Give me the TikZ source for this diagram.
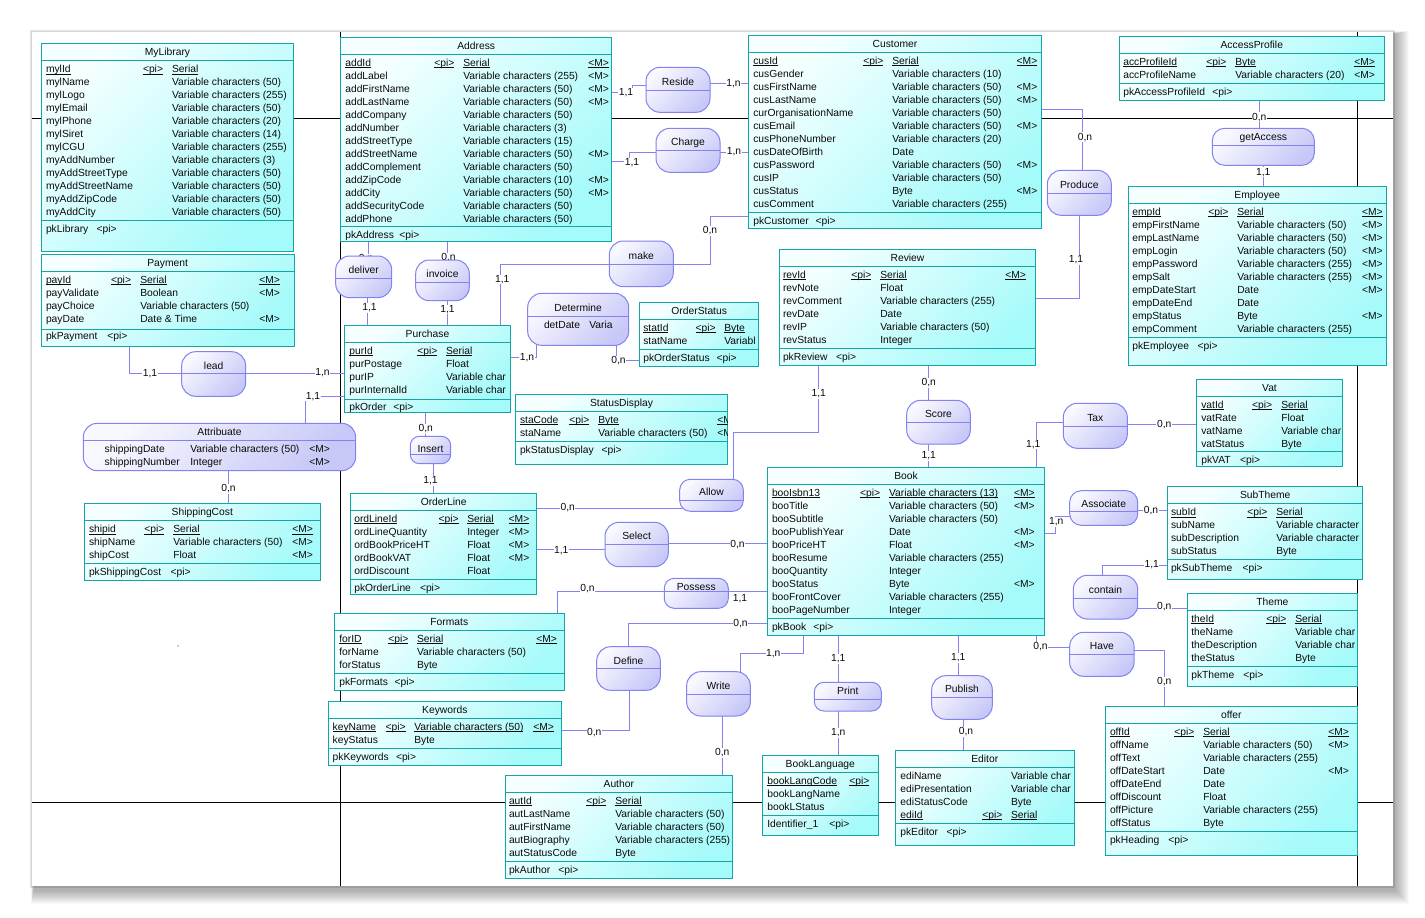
\documentclass[tikz,border=0pt]{standalone}
\usepackage{fontspec}
\setmainfont{Liberation Sans}
\usetikzlibrary{calc}
\pgfdeclarelayer{bg}
\pgfdeclarelayer{wires}
\pgfsetlayers{bg,wires,main}
\definecolor{entA}{RGB}{245,255,255}
\definecolor{entB}{RGB}{165,250,250}
\definecolor{entD}{RGB}{20,165,165}
\definecolor{relA}{RGB}{248,248,255}
\definecolor{relB}{RGB}{200,200,248}
\definecolor{relD}{RGB}{130,130,240}
\definecolor{txtc}{RGB}{10,10,10}
\newcommand\ff{\fontsize{10.3}{12}\selectfont}
\newcommand\ul[1]{\leavevmode\setbox0\hbox{#1}\rlap{\rule[-1.8pt]{\wd0}{0.75pt}}\box0}
\tikzset{
 ent/.style={rectangle, draw=entD, line width=1pt, top color=entA, bottom color=entB, shading angle=45, inner sep=0pt, outer sep=0pt},
 rel/.style={rectangle, draw=relD, line width=1pt, top color=relA, bottom color=relB, shading angle=45, inner sep=0pt, outer sep=0pt},
 txt/.style={anchor=base west, inner sep=0pt, outer sep=0pt, font=\ff, text=txtc},
 ttl/.style={txt, anchor=base},
 conn/.style={draw=relD, line width=1pt},
 card/.style={fill=white, inner sep=0.6pt, font=\ff, text=txtc},
 sepline/.style={line width=1pt},
 pageline/.style={draw=black, line width=1pt}
}
\newcounter{tn}
\newcommand\Tx[3]{\stepcounter{tn}\node[txt] (tx\arabic{tn}) at (#1,#2+3.7) {#3};}
\newcommand\Cell[3]{\if\relax\detokenize{#3}\relax\else\Tx{#1}{#2}{#3}\fi}
\newcommand\UCell[3]{\if\relax\detokenize{#3}\relax\else\Tx{#1}{#2}{\ul{#3}}\fi}
\newcommand\Cols[4]{\def\cA{#1}\def\cB{#2}\def\cC{#3}\def\cD{#4}}
\newcommand\Row[4]{\Cell{\cA}{\ry}{#1}\Cell{\cB}{\ry}{#2}\Cell{\cC}{\ry}{#3}\Cell{\cD}{\ry}{#4}\pgfmathsetmacro\ry{\ry+13}}
\newcommand\URow[4]{\UCell{\cA}{\ry}{#1}\UCell{\cB}{\ry}{#2}\UCell{\cC}{\ry}{#3}\UCell{\cD}{\ry}{#4}\pgfmathsetmacro\ry{\ry+13}}
\newcommand\PK[5]{\Tx{#2}{#1}{#3}\Tx{#4}{#1}{#5}}
\newcommand\Tab[9]{%
 \node[ent, minimum width={#4-#2}, minimum height={#5-#3}] (#1) at ({(#2+#4)/2},{(#3+#5)/2}) {};
 \draw[sepline, entD] (#2,#6) -- (#4,#6) (#2,#7) -- (#4,#7);
 \stepcounter{tn}\node[ttl] (tx\arabic{tn}) at ({(#2+#4)/2},{(#3+#6)/2+3.7}) {#8};
 \begin{scope}\clip (#2,#3) rectangle (#4,#5);\def\ry{#9}}
\newcommand\EndTab{\end{scope}}
\newcommand\Rel[8]{%
 \pgfmathsetmacro\rr{min(14,(#5-#3)/3)}%
 \node[rel, rounded corners=\rr pt, minimum width={#4-#2}, minimum height={#5-#3}] (#1) at ({(#2+#4)/2},{(#3+#5)/2}) {};
 \begin{scope}\clip[rounded corners=\rr pt] (#2,#3) rectangle (#4,#5);
 \draw[sepline, relD] (#2,#6) -- (#4,#6);\end{scope}
 \stepcounter{tn}\node[ttl] (tx\arabic{tn}) at ({(#2+#4)/2},{#7+3.7}) {#8};}
\newcommand\Card[3]{\stepcounter{tn}\node[card] (cd\arabic{tn}) at (#1,#2) {#3};}
\begin{document}
\begin{tikzpicture}[x=1pt,y=-1pt]
\useasboundingbox (0,0) rectangle (1425,918);
\begin{pgfonlayer}{bg}
\fill[white] (0,0) rectangle (1425,918);
\fill[gray!22] (30,30) rectangle (1395,888);
\foreach \i in {1,...,14} {\fill[black,opacity=0.025] (31+\i*0.2,31+\i*0.2) rectangle (1393+17-\i,886+19-\i);}
\fill[white] (32,32) rectangle (1393,886);
\draw[pageline] (32,118) -- (1393,118) (32,802) -- (1393,802) (340,32) -- (340,886) (1357.3,32) -- (1357.3,886);
\node[font=\fontsize{4}{4}\selectfont, text=gray, inner sep=0pt] (smark) at (178,646) {s};
\end{pgfonlayer}

% ---------------- entities ----------------
\Tab{MyLibrary}{41.3}{43.3}{293.7}{251.3}{60.7}{220.7}{MyLibrary}{69}
\Cols{46}{143}{172}{0}
\URow{mylId}{<pi>}{Serial}{}
\Row{mylName}{}{Variable characters (50)}{}
\Row{mylLogo}{}{Variable characters (255)}{}
\Row{mylEmail}{}{Variable characters (50)}{}
\Row{mylPhone}{}{Variable characters (20)}{}
\Row{mylSiret}{}{Variable characters (14)}{}
\Row{mylCGU}{}{Variable characters (255)}{}
\Row{myAddNumber}{}{Variable characters (3)}{}
\Row{myAddStreetType}{}{Variable characters (50)}{}
\Row{myAddStreetName}{}{Variable characters (50)}{}
\Row{myAddZipCode}{}{Variable characters (50)}{}
\Row{myAddCity}{}{Variable characters (50)}{}
\PK{229}{46}{pkLibrary}{96.7}{<pi>}
\EndTab

\Tab{Payment}{41.3}{254.3}{294}{346}{271.3}{329}{Payment}{279.7}
\Cols{46}{111}{140.3}{259.3}
\URow{payId}{<pi>}{Serial}{<M>}
\Row{payValidate}{}{Boolean}{<M>}
\Row{payChoice}{}{Variable characters (50)}{}
\Row{payDate}{}{Date \& Time}{<M>}
\PK{335.7}{46}{pkPayment}{107.3}{<pi>}
\EndTab

\Tab{Address}{340.7}{37.3}{611.7}{241.7}{54.3}{226.7}{Address}{62.7}
\Cols{345.3}{434.3}{463.3}{588.3}
\URow{addId}{<pi>}{Serial}{<M>}
\Row{addLabel}{}{Variable characters (255)}{<M>}
\Row{addFirstName}{}{Variable characters (50)}{<M>}
\Row{addLastName}{}{Variable characters (50)}{<M>}
\Row{addCompany}{}{Variable characters (50)}{}
\Row{addNumber}{}{Variable characters (3)}{}
\Row{addStreetType}{}{Variable characters (15)}{}
\Row{addStreetName}{}{Variable characters (50)}{<M>}
\Row{addComplement}{}{Variable characters (50)}{}
\Row{addZipCode}{}{Variable characters (10)}{<M>}
\Row{addCity}{}{Variable characters (50)}{<M>}
\Row{addSecurityCode}{}{Variable characters (50)}{}
\Row{addPhone}{}{Variable characters (50)}{}
\PK{234.3}{345.3}{pkAddress}{399.3}{<pi>}
\EndTab

\Tab{Customer}{748.3}{35.7}{1041.7}{228.7}{52.3}{212.3}{Customer}{60.7}
\Cols{753.3}{863.3}{892.3}{1016.7}
\URow{cusId}{<pi>}{Serial}{<M>}
\Row{cusGender}{}{Variable characters (10)}{}
\Row{cusFirstName}{}{Variable characters (50)}{<M>}
\Row{cusLastName}{}{Variable characters (50)}{<M>}
\Row{curOrganisationName}{}{Variable characters (50)}{}
\Row{cusEmail}{}{Variable characters (50)}{<M>}
\Row{cusPhoneNumber}{}{Variable characters (20)}{}
\Row{cusDateOfBirth}{}{Date}{}
\Row{cusPassword}{}{Variable characters (50)}{<M>}
\Row{cusIP}{}{Variable characters (50)}{}
\Row{cusStatus}{}{Byte}{<M>}
\Row{cusComment}{}{Variable characters (255)}{}
\PK{220.7}{753.3}{pkCustomer}{815.7}{<pi>}
\EndTab

\Tab{AccessProfile}{1119.3}{36.7}{1384.3}{100.3}{53.3}{83.3}{AccessProfile}{61.7}
\Cols{1123.3}{1206.3}{1235.3}{1354.3}
\URow{accProfileId}{<pi>}{Byte}{<M>}
\Row{accProfileName}{}{Variable characters (20)}{<M>}
\PK{91.7}{1123.3}{pkAccessProfileId}{1212.3}{<pi>}
\EndTab

\Tab{Employee}{1128.3}{186.3}{1386.3}{365}{203.3}{337.7}{Employee}{211.7}
\Cols{1132.3}{1208.3}{1237.3}{1362}
\URow{empId}{<pi>}{Serial}{<M>}
\Row{empFirstName}{}{Variable characters (50)}{<M>}
\Row{empLastName}{}{Variable characters (50)}{<M>}
\Row{empLogin}{}{Variable characters (50)}{<M>}
\Row{empPassword}{}{Variable characters (255)}{<M>}
\Row{empSalt}{}{Variable characters (255)}{<M>}
\Row{empDateStart}{}{Date}{<M>}
\Row{empDateEnd}{}{Date}{}
\Row{empStatus}{}{Byte}{<M>}
\Row{empComment}{}{Variable characters (255)}{}
\PK{345.3}{1132.3}{pkEmployee}{1197.7}{<pi>}
\EndTab

\Tab{Purchase}{344.3}{325.7}{510.7}{412.3}{342.3}{399}{Purchase}{350.7}
\Cols{349.3}{417.3}{446}{0}
\URow{purId}{<pi>}{Serial}{}
\Row{purPostage}{}{Float}{}
\Row{purIP}{}{Variable char}{}
\Row{purInternalId}{}{Variable char}{}
\PK{406.7}{349.3}{pkOrder}{393.3}{<pi>}
\EndTab

\Tab{OrderStatus}{639.7}{302.7}{758.7}{366}{319.3}{349.3}{OrderStatus}{327.7}
\Cols{643.3}{695.7}{724.3}{0}
\URow{statId}{<pi>}{Byte}{}
\Row{statName}{}{Variabl}{}
\PK{357.7}{643.3}{pkOrderStatus}{716.7}{<pi>}
\EndTab

\Tab{StatusDisplay}{515.3}{394.7}{727.7}{464.3}{411.3}{441.7}{StatusDisplay}{419.7}
\Cols{520}{569.3}{598.3}{717.3}
\URow{staCode}{<pi>}{Byte}{<M>}
\Row{staName}{}{Variable characters (50)}{<M>}
\PK{450}{520}{pkStatusDisplay}{601.7}{<pi>}
\EndTab

\Tab{OrderLine}{350.7}{493.3}{536.7}{594.3}{510.7}{579.7}{OrderLine}{518.7}
\Cols{354.3}{438.7}{467.3}{508.7}
\URow{ordLineId}{<pi>}{Serial}{<M>}
\Row{ordLineQuantity}{}{Integer}{<M>}
\Row{ordBookPriceHT}{}{Float}{<M>}
\Row{ordBookVAT}{}{Float}{<M>}
\Row{ordDiscount}{}{Float}{}
\PK{587.3}{354.3}{pkOrderLine}{420}{<pi>}
\EndTab

\Tab{ShippingCost}{84.3}{503}{320.3}{580}{520}{563.3}{ShippingCost}{529}
\Cols{89}{144.3}{173.3}{292.3}
\URow{shipid}{<pi>}{Serial}{<M>}
\Row{shipName}{}{Variable characters (50)}{<M>}
\Row{shipCost}{}{Float}{<M>}
\PK{571.7}{89}{pkShippingCost}{170.7}{<pi>}
\EndTab

\Tab{Formats}{334.3}{613.3}{564.3}{690}{630.7}{673.7}{Formats}{638.7}
\Cols{339.3}{388.3}{417}{536.3}
\URow{forID}{<pi>}{Serial}{<M>}
\Row{forName}{}{Variable characters (50)}{}
\Row{forStatus}{}{Byte}{}
\PK{681.3}{339.3}{pkFormats}{394.7}{<pi>}
\EndTab

\Tab{Keywords}{328.3}{701.3}{561.3}{765}{718.7}{748.7}{Keywords}{726.7}
\Cols{332.7}{385.7}{414.3}{533.3}
\URow{keyName}{<pi>}{Variable characters (50)}{<M>}
\Row{keyStatus}{}{Byte}{}
\PK{756.7}{332.7}{pkKeywords}{396}{<pi>}
\EndTab

\Tab{Author}{505.3}{775.3}{732.3}{878}{792.3}{861.7}{Author}{800.7}
\Cols{509}{586.3}{615.3}{0}
\URow{autId}{<pi>}{Serial}{}
\Row{autLastName}{}{Variable characters (50)}{}
\Row{autFirstName}{}{Variable characters (50)}{}
\Row{autBiography}{}{Variable characters (255)}{}
\Row{autStatusCode}{}{Byte}{}
\PK{869.3}{509}{pkAuthor}{558.3}{<pi>}
\EndTab

\Tab{Review}{779.3}{249.3}{1035.7}{365.3}{266.7}{348.3}{Review}{274.7}
\Cols{783}{851.3}{880.3}{1005.3}
\URow{revId}{<pi>}{Serial}{<M>}
\Row{revNote}{}{Float}{}
\Row{revComment}{}{Variable characters (255)}{}
\Row{revDate}{}{Date}{}
\Row{revIP}{}{Variable characters (50)}{}
\Row{revStatus}{}{Integer}{}
\PK{356.7}{783}{pkReview}{836}{<pi>}
\EndTab

\Tab{Book}{767.3}{467.7}{1044.7}{635.3}{484.3}{618.7}{Book}{492.7}
\Cols{772}{860}{889}{1014}
\URow{booIsbn13}{<pi>}{Variable characters (13)}{<M>}
\Row{booTitle}{}{Variable characters (50)}{<M>}
\Row{booSubtitle}{}{Variable characters (50)}{}
\Row{booPublishYear}{}{Date}{<M>}
\Row{booPriceHT}{}{Float}{<M>}
\Row{booResume}{}{Variable characters (255)}{}
\Row{booQuantity}{}{Integer}{}
\Row{booStatus}{}{Byte}{<M>}
\Row{booFrontCover}{}{Variable characters (255)}{}
\Row{booPageNumber}{}{Integer}{}
\PK{626.7}{772}{pkBook}{813.3}{<pi>}
\EndTab

\Tab{Vat}{1196.7}{379.3}{1342.3}{466.7}{396}{451.7}{Vat}{404.7}
\Cols{1201.3}{1252}{1281.3}{0}
\URow{vatId}{<pi>}{Serial}{}
\Row{vatRate}{}{Float}{}
\Row{vatName}{}{Variable char}{}
\Row{vatStatus}{}{Byte}{}
\PK{459.3}{1201.3}{pkVAT}{1240}{<pi>}
\EndTab

\Tab{SubTheme}{1167.7}{486.7}{1362.7}{579.3}{503.7}{559.7}{SubTheme}{512}
\Cols{1171}{1247.3}{1276.3}{0}
\URow{subId}{<pi>}{Serial}{}
\Row{subName}{}{Variable character}{}
\Row{subDescription}{}{Variable character}{}
\Row{subStatus}{}{Byte}{}
\PK{567.7}{1171}{pkSubTheme}{1242.7}{<pi>}
\EndTab

\Tab{Theme}{1187.3}{593.7}{1357.3}{686.3}{610.3}{666.3}{Theme}{618.7}
\Cols{1191.3}{1266.3}{1295.3}{0}
\URow{theId}{<pi>}{Serial}{}
\Row{theName}{}{Variable char}{}
\Row{theDescription}{}{Variable char}{}
\Row{theStatus}{}{Byte}{}
\PK{674.7}{1191.3}{pkTheme}{1243.3}{<pi>}
\EndTab

\Tab{offer}{1105.3}{706}{1357.3}{855}{723.3}{831.3}{offer}{731.7}
\Cols{1110}{1174.3}{1203.3}{1328.3}
\URow{offId}{<pi>}{Serial}{<M>}
\Row{offName}{}{Variable characters (50)}{<M>}
\Row{offText}{}{Variable characters (255)}{}
\Row{offDateStart}{}{Date}{<M>}
\Row{offDateEnd}{}{Date}{}
\Row{offDiscount}{}{Float}{}
\Row{offPicture}{}{Variable characters (255)}{}
\Row{offStatus}{}{Byte}{}
\PK{839.7}{1110}{pkHeading}{1168.3}{<pi>}
\EndTab

\Tab{BookLanguage}{762.3}{755.3}{878.3}{835.3}{772.3}{815.7}{BookLanguage}{780.7}
\Cols{767.3}{849.3}{0}{0}
\URow{bookLangCode}{<pi>}{}{}
\Row{bookLangName}{}{}{}
\Row{bookLStatus}{}{}{}
\PK{823.3}{767.3}{Identifier\_1}{829.3}{<pi>}
\EndTab

\Tab{Editor}{895.3}{750.3}{1074.3}{845.3}{767}{823.3}{Editor}{775.7}
\Cols{900.3}{982.3}{1011}{0}
\Row{ediName}{}{Variable char}{}
\Row{ediPresentation}{}{Variable char}{}
\Row{ediStatusCode}{}{Byte}{}
\URow{ediId}{<pi>}{Serial}{}
\PK{831.3}{900.3}{pkEditor}{946.7}{<pi>}
\EndTab

% ---------------- relationships ----------------
\Rel{Reside}{646}{67.3}{710}{112.3}{90.3}{81.7}{Reside}
\Rel{Charge}{656}{128.3}{720}{172.3}{150.3}{141.7}{Charge}
\Rel{getAccess}{1212.3}{128.3}{1314.3}{165.3}{145.7}{136.7}{getAccess}
\Rel{Produce}{1047.3}{170.3}{1111.3}{215.3}{193.3}{184.7}{Produce}
\Rel{make}{609.3}{241}{673.3}{286.7}{264.3}{256}{make}
\Rel{deliver}{335.7}{256}{391.7}{297.7}{278.3}{269.7}{deliver}
\Rel{invoice}{415.7}{260}{469.3}{300.7}{282.3}{273.7}{invoice}
\Rel{Determine}{527.7}{293.3}{628.7}{345.3}{316.7}{307.7}{Determine}
\Tx{544}{324.3}{detDate}\Tx{589.3}{324.3}{Varia}
\Rel{lead}{181.7}{351.7}{245.7}{396.3}{373.3}{365.7}{lead}
\Rel{Attribuate}{83.3}{423.3}{355.7}{470.7}{440.7}{431.7}{Attribuate}
\Tx{104.7}{449}{shippingDate}\Tx{190.3}{449}{Variable characters (50)}\Tx{309.3}{449}{<M>}
\Tx{104.7}{462}{shippingNumber}\Tx{190.3}{462}{Integer}\Tx{309.3}{462}{<M>}
\Rel{Score}{906.7}{400.3}{970.3}{444}{422.7}{413.7}{Score}
\Rel{Tax}{1063.3}{403.3}{1127.3}{448.3}{426}{417.7}{Tax}
\Rel{Insert}{410.3}{436.3}{450.7}{463.7}{454}{448.7}{Insert}
\Rel{Allow}{679.7}{479.3}{743.3}{511.3}{500.3}{491.7}{Allow}
\Rel{Associate}{1069.7}{490.7}{1137.7}{525.3}{511.3}{503.7}{Associate}
\Rel{Select}{605}{522.3}{668.3}{566.7}{544.3}{535.7}{Select}
\Rel{Possess}{664.3}{578.3}{728.3}{608.3}{591.7}{586.7}{Possess}
\Rel{contain}{1073.3}{575.3}{1137.7}{619}{598.3}{589.7}{contain}
\Rel{Have}{1069.7}{632.3}{1134}{676.3}{654.3}{645.7}{Have}
\Rel{Define}{596.7}{646.7}{660.3}{690.3}{668.7}{660.7}{Define}
\Rel{Write}{686.7}{671.7}{750.3}{716}{694.3}{685.7}{Write}
\Rel{Print}{814.3}{682.3}{881.3}{711}{699}{690.3}{Print}
\Rel{Publish}{931.7}{675.7}{992.3}{719.3}{697.3}{688.3}{Publish}

% ---------------- connectors ----------------
\begin{pgfonlayer}{wires}
\draw[conn] (Address.east |- 0,92) -- (632,92) -- (632,85) -- (Reside.center |- 0,85);
\draw[conn] (Reside.center |- 0,83) -- (Customer.west |- 0,83);
\draw[conn] (Address.east |- 0,161) -- (629,161) -- (629,152) -- (Charge.center |- 0,152);
\draw[conn] (Charge.center |- 0,152) -- (Customer.west |- 0,152);
\draw[conn] (make.center |- 0,264.3) -- (710,264.3) -- (710,216) -- (Customer.west |- 0,216);
\draw[conn] (make.center |- 0,264.3) -- (500.7,264.3) -- (Purchase.north -| 500.7,0);
\draw[conn] (Address.south -| 368.3,0) -- (deliver.center -| 368.3,0);
\draw[conn] (deliver.center -| 367.3,0) -- (Purchase.north -| 367.3,0);
\draw[conn] (Address.south -| 447.7,0) -- (invoice.center -| 447.7,0);
\draw[conn] (invoice.center -| 447.3,0) -- (Purchase.north -| 447.3,0);
\draw[conn] (Payment.south -| 129.3,0) -- (129.3,373.3) -- (lead.center |- 0,373.3);
\draw[conn] (lead.center |- 0,373.3) -- (Purchase.west |- 0,373.3);
\draw[conn] (Attribuate.center -| 305.7,0) -- (305.7,396.7) -- (Purchase.west |- 0,396.7);
\draw[conn] (Attribuate.center -| 228,0) -- (ShippingCost.north -| 228,0);
\draw[conn] (Purchase.east |- 0,357.7) -- (536.3,357.7) -- (Determine.center -| 536.3,0);
\draw[conn] (Determine.center -| 616.3,0) -- (616.3,360.3) -- (OrderStatus.west |- 0,360.3);
\draw[conn] (Purchase.south -| 425.7,0) -- (Insert.center -| 425.7,0);
\draw[conn] (Insert.center -| 433,0) -- (OrderLine.north -| 433,0);
\draw[conn] (OrderLine.east |- 0,508) -- (Allow.center |- 0,508);
\draw[conn] (Allow.center -| 733.3,0) -- (733.3,432.3) -- (818.7,432.3) -- (Review.south -| 818.7,0);
\draw[conn] (OrderLine.east |- 0,549.3) -- (Select.center |- 0,549.3);
\draw[conn] (Select.center |- 0,543.3) -- (Book.west |- 0,543.3);
\draw[conn] (Possess.center |- 0,591.3) -- (557.7,591.3) -- (Formats.north -| 557.7,0);
\draw[conn] (Possess.center |- 0,591.3) -- (Book.west |- 0,591.3);
\draw[conn] (Define.center -| 628.3,0) -- (628.3,623.8) -- (Book.west |- 0,623.8);
\draw[conn] (Define.center -| 629.7,0) -- (629.7,730.3) -- (Keywords.east |- 0,730.3);
\draw[conn] (Write.center -| 740.3,0) -- (740.3,653.3) -- (803.3,653.3) -- (Book.south -| 803.3,0);
\draw[conn] (Write.center -| 722.3,0) -- (Author.north -| 722.3,0);
\draw[conn] (Book.south -| 838.3,0) -- (BookLanguage.north -| 838.3,0);
\draw[conn] (Book.south -| 958,0) -- (Publish.center -| 958,0);
\draw[conn] (Publish.center -| 963,0) -- (Editor.north -| 963,0);
\draw[conn] (Book.south -| 1036.3,0) -- (1036.3,647) -- (Have.center |- 0,647);
\draw[conn] (Have.center |- 0,650) -- (1164.3,650) -- (offer.north -| 1164.3,0);
\draw[conn] (Book.east |- 0,533.3) -- (1055.7,533.3) -- (1055.7,516.7) -- (Associate.center |- 0,516.7);
\draw[conn] (Associate.center |- 0,510) -- (SubTheme.west |- 0,510);
\draw[conn] (contain.center -| 1102.3,0) -- (1102.3,565) -- (SubTheme.west |- 0,565);
\draw[conn] (contain.center |- 0,608) -- (Theme.west |- 0,608);
\draw[conn] (Book.north -| 1036.7,0) -- (1036.7,422.5) -- (Tax.center |- 0,422.5);
\draw[conn] (Tax.center |- 0,424.5) -- (Vat.west |- 0,424.5);
\draw[conn] (Review.south -| 928.7,0) -- (Book.north -| 928.7,0);
\draw[conn] (Review.east |- 0,298) -- (1079.3,298) -- (Produce.center);
\draw[conn] (Produce.center -| 1082.7,0) -- (1082.7,109.3) -- (Customer.east |- 0,109.3);
\draw[conn] (AccessProfile.south -| 1259.3,0) -- (getAccess.center -| 1259.3,0);
\draw[conn] (getAccess.center -| 1263.3,0) -- (Employee.north -| 1263.3,0);
% cardinalities
\Card{626}{92.7}{1,1}
\Card{733.5}{83.3}{1,n}
\Card{632}{162.7}{1,1}
\Card{734}{151.7}{1,n}
\Card{710}{230.7}{0,n}
\Card{502.3}{279.3}{1,1}
\Card{366}{259}{0,n}
\Card{369.5}{307.7}{1,1}
\Card{448.5}{257.7}{0,n}
\Card{447.5}{309.3}{1,1}
\Card{150}{373.3}{1,1}
\Card{322.5}{372.5}{1,n}
\Card{313}{396.5}{1,1}
\Card{228.5}{489}{0,n}
\Card{527}{357.7}{1,n}
\Card{618.5}{360.5}{0,n}
\Card{425.7}{428.7}{0,n}
\Card{430.5}{480.7}{1,1}
\Card{567.7}{508}{0,n}
\Card{818.7}{394}{1,1}
\Card{561.3}{551}{1,1}
\Card{737.5}{545}{0,n}
\Card{587.5}{589}{0,n}
\Card{740}{598.5}{1,1}
\Card{740.5}{623.5}{0,n}
\Card{594.3}{732.7}{0,n}
\Card{773.3}{653.3}{1,n}
\Card{722.3}{752.7}{0,n}
\Card{838.3}{658.7}{1,1}
\Card{838.3}{732.7}{1,n}
\Card{958.3}{657.7}{1,1}
\Card{966}{731.7}{0,n}
\Card{1040.5}{646.7}{0,n}
\Card{1164.3}{681.7}{0,n}
\Card{1056.3}{522}{1,n}
\Card{1151}{511}{0,n}
\Card{1151.7}{565}{1,1}
\Card{1164.3}{606.7}{0,n}
\Card{1033.3}{444.5}{1,1}
\Card{1164.2}{424.3}{0,n}
\Card{928.7}{382.7}{0,n}
\Card{928.7}{455.7}{1,1}
\Card{1076}{260}{1,1}
\Card{1085}{137.3}{0,n}
\Card{1259.3}{117.3}{0,n}
\Card{1263.3}{172.3}{1,1}
\end{pgfonlayer}
\end{tikzpicture}
\end{document}
